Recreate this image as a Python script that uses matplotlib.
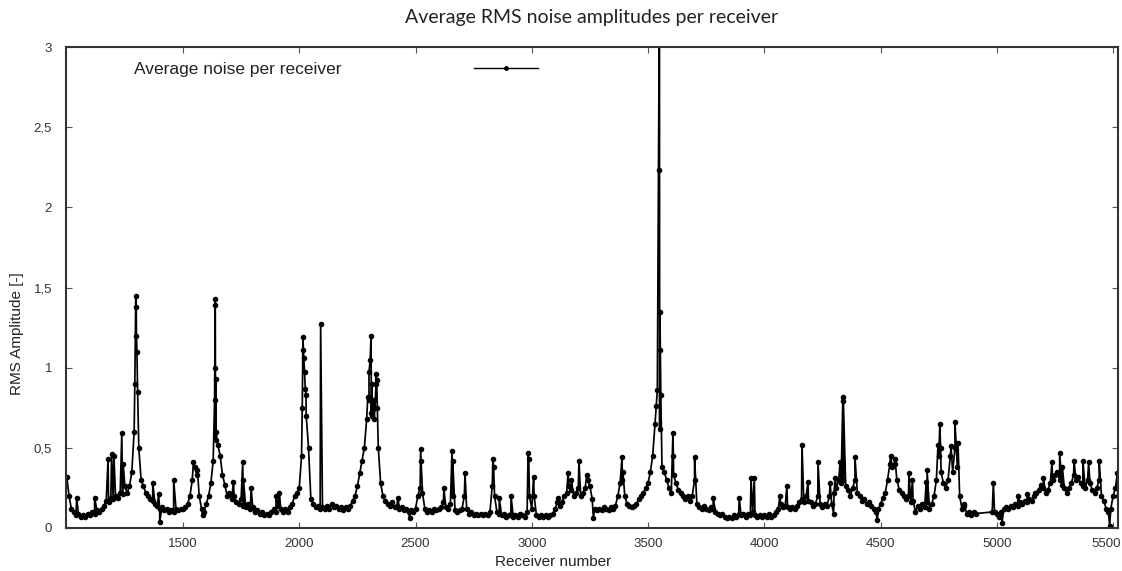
import numpy as np
import matplotlib
matplotlib.use("Agg")
import matplotlib.pyplot as plt
import matplotlib.transforms as mtransforms


# baseline readings, one every 10 receivers (1000 .. 5520), with a gap 4920-4970
base_x = [r for r in range(1000, 5530, 10) if not 4920 <= r <= 4970]

base_1000 = [0.32, 0.20, 0.12, 0.10, 0.08, 0.09, 0.07, 0.08, 0.07, 0.09,
             0.08, 0.10, 0.09, 0.11, 0.10, 0.12, 0.14, 0.17, 0.16, 0.19,
             0.18, 0.20, 0.19, 0.22, 0.21, 0.26, 0.22, 0.26, 0.35, 0.60,
             1.20, 0.50, 0.30, 0.26, 0.22, 0.20, 0.18, 0.17, 0.15, 0.14,
             0.12, 0.13, 0.11, 0.12, 0.10, 0.11, 0.10, 0.12, 0.11, 0.12]
base_1500 = [0.12, 0.13, 0.15, 0.20, 0.30, 0.38, 0.33, 0.20, 0.12, 0.10,
             0.15, 0.20, 0.28, 0.42, 0.55, 0.52, 0.45, 0.33, 0.27, 0.20,
             0.22, 0.18, 0.20, 0.16, 0.15, 0.18, 0.14, 0.13, 0.15, 0.12,
             0.13, 0.10, 0.11, 0.09, 0.10, 0.08, 0.09, 0.08, 0.10, 0.12,
             0.10, 0.14, 0.12, 0.10, 0.12, 0.10, 0.13, 0.15, 0.20, 0.22]
base_2000 = [0.25, 0.45, 1.06, 0.70, 0.50, 0.18, 0.15, 0.13, 0.14, 0.12,
             0.13, 0.12, 0.14, 0.12, 0.15, 0.13, 0.14, 0.12, 0.13, 0.11,
             0.13, 0.12, 0.14, 0.17, 0.20, 0.26, 0.34, 0.42, 0.50, 0.68,
             0.80, 0.72, 0.80, 0.90, 0.50, 0.28, 0.20, 0.17, 0.15, 0.14,
             0.16, 0.13, 0.14, 0.12, 0.13, 0.11, 0.12, 0.10, 0.11, 0.10]
base_2500 = [0.12, 0.20, 0.25, 0.22, 0.12, 0.10, 0.11, 0.10, 0.12, 0.11,
             0.12, 0.13, 0.16, 0.13, 0.12, 0.15, 0.20, 0.11, 0.10, 0.11,
             0.12, 0.20, 0.12, 0.09, 0.10, 0.08, 0.09, 0.08, 0.09, 0.08,
             0.09, 0.08, 0.10, 0.26, 0.20, 0.10, 0.09, 0.08, 0.09, 0.07,
             0.08, 0.09, 0.07, 0.08, 0.07, 0.09, 0.08, 0.07, 0.10, 0.20]
base_3000 = [0.12, 0.20, 0.08, 0.07, 0.08, 0.07, 0.08, 0.07, 0.08, 0.09,
             0.12, 0.16, 0.14, 0.16, 0.20, 0.22, 0.26, 0.24, 0.20, 0.22,
             0.25, 0.20, 0.22, 0.25, 0.30, 0.26, 0.18, 0.12, 0.11, 0.12,
             0.11, 0.13, 0.12, 0.11, 0.13, 0.12, 0.14, 0.20, 0.28, 0.30,
             0.20, 0.15, 0.14, 0.13, 0.14, 0.15, 0.18, 0.20, 0.22, 0.25]
base_3500 = [0.28, 0.35, 0.45, 0.65, 0.86, 0.62, 0.38, 0.35, 0.30, 0.25,
             0.22, 0.33, 0.28, 0.24, 0.22, 0.20, 0.18, 0.20, 0.17, 0.20,
             0.30, 0.15, 0.13, 0.12, 0.14, 0.12, 0.11, 0.13, 0.12, 0.10,
             0.09, 0.08, 0.09, 0.07, 0.06, 0.07, 0.06, 0.08, 0.07, 0.09,
             0.08, 0.09, 0.07, 0.09, 0.08, 0.10, 0.08, 0.07, 0.08, 0.07]
base_4000 = [0.08, 0.07, 0.09, 0.07, 0.08, 0.10, 0.12, 0.15, 0.13, 0.14,
             0.13, 0.12, 0.13, 0.12, 0.14, 0.16, 0.18, 0.16, 0.20, 0.17,
             0.16, 0.14, 0.15, 0.20, 0.15, 0.13, 0.15, 0.14, 0.20, 0.15,
             0.22, 0.25, 0.30, 0.28, 0.30, 0.26, 0.24, 0.20, 0.25, 0.30,
             0.22, 0.20, 0.17, 0.18, 0.15, 0.16, 0.14, 0.12, 0.10, 0.12]
base_4500 = [0.15, 0.19, 0.22, 0.30, 0.40, 0.38, 0.40, 0.30, 0.24, 0.22,
             0.20, 0.18, 0.20, 0.16, 0.17, 0.10, 0.14, 0.12, 0.15, 0.13,
             0.16, 0.12, 0.15, 0.20, 0.30, 0.45, 0.35, 0.28, 0.25, 0.30,
             0.45, 0.35, 0.50, 0.38, 0.20, 0.12, 0.14, 0.09, 0.10, 0.08,
             0.10, 0.09, 0.10, 0.10]
base_5000 = [0.09, 0.07, 0.10, 0.12, 0.13, 0.12, 0.14, 0.13, 0.15, 0.14,
             0.16, 0.15, 0.17, 0.16, 0.18, 0.17, 0.20, 0.22, 0.24, 0.27,
             0.25, 0.22, 0.24, 0.28, 0.30, 0.33, 0.35, 0.30, 0.27, 0.25,
             0.22, 0.25, 0.28, 0.33, 0.30, 0.32, 0.28, 0.26, 0.25, 0.30,
             0.28, 0.24, 0.22, 0.25, 0.30, 0.20, 0.17, 0.12, 0.10, 0.12,
             0.20, 0.25, 0.20]

# single receivers standing out of the baseline (peaks and spikes)
spike_x = [1043, 1120, 1178, 1193, 1203, 1237, 1243, 1293, 1297, 1299, 1302, 1305,
           1370, 1395, 1400, 1460,
           1545, 1562, 1585, 1636, 1637, 1638, 1639, 1640, 1642, 1717, 1757, 1760,
           1793, 1900, 1915,
           2013, 2016, 2018, 2023, 2026, 2029, 2092,
           2295, 2300, 2305, 2309, 2312, 2315, 2318, 2322, 2326, 2330, 2333, 2336,
           2425, 2475,
           2522, 2524, 2622, 2657, 2660, 2713, 2833, 2836, 2860, 2911, 2984, 2987,
           3008, 3113, 3156, 3170, 3203, 3236, 3265, 3388, 3392,
           3535, 3545, 3549, 3551, 3553, 3555, 3607, 3609, 3700, 3780, 3892, 3943,
           3957,
           4067, 4097, 4162, 4188, 4231, 4283, 4298, 4305, 4326, 4338, 4340, 4390,
           4486,
           4543, 4562, 4622, 4637, 4696, 4700, 4747, 4755, 4758, 4803, 4820, 4833,
           4860, 4985,
           5022, 5090, 5130, 5165, 5200, 5237, 5270, 5282, 5332, 5370, 5395, 5440,
           5485, 5518]
spike_y = [0.19, 0.19, 0.43, 0.46, 0.45, 0.59, 0.40, 0.90, 1.45, 1.38, 1.10, 0.85,
           0.28, 0.21, 0.04, 0.30,
           0.41, 0.36, 0.08, 0.80, 1.00, 1.43, 1.39, 0.93, 0.60, 0.29, 0.41, 0.30,
           0.25, 0.20, 0.22,
           0.75, 1.19, 1.11, 0.97, 0.87, 0.83, 1.27,
           0.82, 0.97, 1.05, 1.20, 0.90, 0.70, 0.80, 0.68, 0.75, 0.96, 0.92, 0.75,
           0.19, 0.06,
           0.49, 0.42, 0.25, 0.48, 0.42, 0.34, 0.43, 0.38, 0.19, 0.20, 0.47, 0.43,
           0.32, 0.19, 0.34, 0.30, 0.42, 0.33, 0.06, 0.44, 0.35,
           0.76, 2.23, 3.40, 1.35, 1.11, 0.83, 0.59, 0.45, 0.44, 0.19, 0.19, 0.31,
           0.31,
           0.20, 0.26, 0.52, 0.29, 0.41, 0.28, 0.09, 0.31, 0.41, 0.82, 0.79, 0.44,
           0.05,
           0.45, 0.43, 0.34, 0.30, 0.29, 0.36, 0.52, 0.65, 0.50, 0.51, 0.66, 0.53,
           0.15, 0.28,
           0.03, 0.20, 0.21, 0.22, 0.31, 0.41, 0.47, 0.38, 0.42, 0.42, 0.41, 0.42,
           0.01, 0.34]

base_y = (base_1000 + base_1500 + base_2000 + base_2500 + base_3000
          + base_3500 + base_4000 + base_4500 + base_5000)

receiver = np.array(base_x + spike_x, dtype=float)
rms = np.array(base_y + spike_y)
order = np.argsort(receiver, kind="stable")
receiver, rms = receiver[order], rms[order]

x_ticks = [1500, 2000, 2500, 3000, 3500, 4000, 4500, 5000, 5500]
y_ticks = [0, 0.5, 1, 1.5, 2, 2.5, 3]
y_tick_labels = ["0", "0,5", "1", "1,5", "2", "2,5", "3"]

fig = plt.figure(figsize=(11.22, 5.71), dpi=100)
ax = fig.add_axes([66 / 1122, 1 - 528 / 571, 1052 / 1122, 481 / 571])

ax.plot(receiver, rms, color="black", lw=1.25, marker="o", ms=3.0,
        label="Average noise per receiver")

ax.set_xlim(997, 5521)
ax.set_ylim(0, 3)
ax.set_xticks(x_ticks)
ax.set_yticks(y_ticks)
ax.set_yticklabels(y_tick_labels)
ax.tick_params(direction="in", length=4, width=0.8, top=True, right=True,
               colors="#555555", labelcolor="#333333", labelsize=9.5)
ax.tick_params(axis="y", pad=10)
ax.tick_params(axis="x", pad=7)
for lab in ax.get_xticklabels() + ax.get_yticklabels():
    lab.set_family("Liberation Sans")
# last x label sits a bit left of its tick, as in the source
last = ax.get_xticklabels()[-1]
last.set_transform(last.get_transform() +
                   mtransforms.ScaledTranslation(-7 / 100, 0, fig.dpi_scale_trans))
for sp in ax.spines.values():
    sp.set_color("#333333")
    sp.set_linewidth(1.5)

ax.set_title("Average RMS noise amplitudes per receiver", family="Lato",
             fontsize=14, color="#222222", pad=17)
ax.set_xlabel("Receiver number", family="Liberation Sans", fontsize=11,
              color="#222222")
ax.xaxis.set_label_coords(0.463, -0.056)
ax.set_ylabel("RMS Amplitude [-]", family="Liberation Sans", fontsize=11,
              color="#222222")
ax.yaxis.set_label_coords(-0.04, 0.405)

leg = ax.legend(loc="upper left", bbox_to_anchor=(0.065, 0.97), frameon=False,
                markerfirst=False, handlelength=3.7, handletextpad=7.6,
                borderaxespad=0, borderpad=0,
                prop={"family": "Liberation Sans", "size": 12.5})
for t in leg.get_texts():
    t.set_color("#222222")
for ln in leg.get_lines():
    ln.set_linewidth(1.0)
    ln.set_markersize(2.5)

fig.savefig("out.png", dpi=100)
